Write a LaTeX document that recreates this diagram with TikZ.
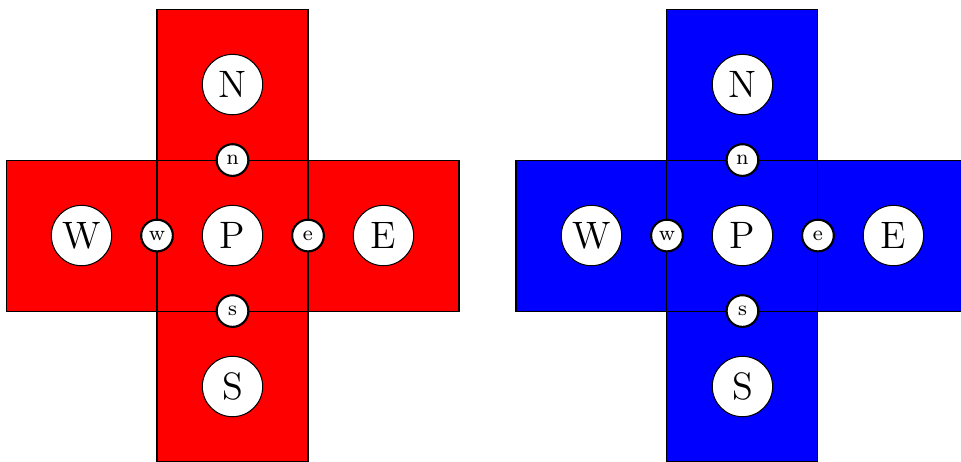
\documentclass[tikz,border=0pt]{standalone}
\usetikzlibrary{positioning}

\tikzset{
  cv/.style={circle, draw, fill=white, minimum size=0.8cm, inner sep=0pt, font=\Large},
  face/.style={circle, draw, thick, fill=white, minimum size=0.42cm, inner sep=0pt, font=\footnotesize},
}

\begin{document}
\begin{tikzpicture}
      \def\cw{2}

      \useasboundingbox (-3.08, -2.99) rectangle (9.65, 3.12);
      \clip (-3.08, -2.99) rectangle (9.65, 3.12);

      \foreach \k/\col/\dx in {1/red/0, 2/blue/6.755} {
        \begin{scope}[shift={(\dx, 0)}]
          % cells of the stencil: fill first, then outline
          \foreach \cx/\cy in {0/0, 0/1, 0/-1, -1/0, 1/0} {
            \fill[\col] ({(\cx-0.5)*\cw}, {(\cy-0.5)*\cw}) rectangle ({(\cx+0.5)*\cw}, {(\cy+0.5)*\cw});
          }
          \foreach \cx/\cy in {0/0, 0/1, 0/-1, -1/0, 1/0} {
            \draw ({(\cx-0.5)*\cw}, {(\cy-0.5)*\cw}) rectangle ({(\cx+0.5)*\cw}, {(\cy+0.5)*\cw});
          }
          % control volumes
          \node[cv] (P\k) at (0, 0) {P};
          \node[cv] (N\k) at (0, \cw) {N};
          \node[cv] (S\k) at (0, -\cw) {S};
          \node[cv] (W\k) at (-\cw, 0) {W};
          \node[cv] (E\k) at (\cw, 0) {E};
          % faces
          \node[face] (n\k) at (0, 0.5*\cw) {n};
          \node[face] (s\k) at (0, -0.5*\cw) {s};
          \node[face] (w\k) at (-0.5*\cw, 0) {w};
          \node[face] (e\k) at (0.5*\cw, 0) {e};
        \end{scope}
      }
    \end{tikzpicture}
\end{document}
